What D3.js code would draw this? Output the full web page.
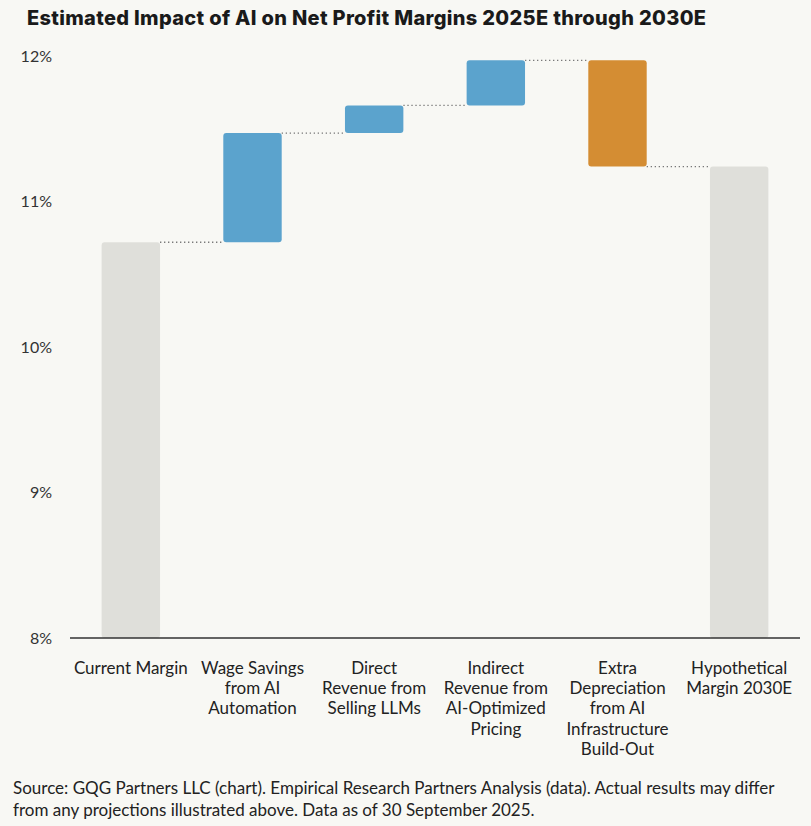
<!DOCTYPE html>
<html>
<head>
<meta charset="utf-8">
<script src="https://cdn.jsdelivr.net/npm/d3@7"></script>
<style>
  body { margin: 0; background: #f8f8f4; }
  text { font-family: Lato, "Noto Sans", sans-serif; }
</style>
</head>
<body>
<svg id="chart"></svg>
<script>
// data
const categories = ['Current Margin', 'Wage Savings', 'Direct Revenue', 'Indirect Revenue', 'Extra Depreciation', 'Hypothetical Margin'];
const labelLines = [
  ['Current Margin'],
  ['Wage Savings', 'from AI', 'Automation'],
  ['Direct', 'Revenue from', 'Selling LLMs'],
  ['Indirect', 'Revenue from', 'AI-Optimized', 'Pricing'],
  ['Extra', 'Depreciation', 'from AI', 'Infrastructure', 'Build-Out'],
  ['Hypothetical', 'Margin 2030E']
];
const startValue = 10.72;
const changes = [0.75, 0.19, 0.31, -0.73];
const endValue = 11.24;
const yTicks = [8, 9, 10, 11, 12];
const titleText = 'Estimated Impact of AI on Net Profit Margins 2025E through 2030E';
const sourceLines = [
  'Source: GQG Partners LLC (chart). Empirical Research Partners Analysis (data). Actual results may differ',
  'from any projections illustrated above. Data as of 30 September 2025.'
];

const width = 811, height = 826;
const colors = {total: '#dfdfda', up: '#5ba3cd', down: '#d48d33'};

// 1. build waterfall steps
let steps = [];
steps.push({cat: categories[0], lo: 8, hi: startValue, kind: 'total', level: startValue});
let level = startValue;
changes.forEach((c, i) => {
  let next = level + c;
  steps.push({cat: categories[i + 1], lo: Math.min(level, next), hi: Math.max(level, next), kind: c >= 0 ? 'up' : 'down', level: next});
  level = next;
});
steps.push({cat: categories[5], lo: 8, hi: endValue, kind: 'total', level: endValue});

const svg = d3.select('#chart').attr('width', width).attr('height', height);

// 2. scales
let x = d3.scaleBand().domain(categories).range([70, 800]).paddingInner(0.52).paddingOuter(0.26);
let y = d3.scaleLinear().domain([8, 12]).range([638, 56]);

// title
svg.append('text')
  .attr('x', 27).attr('y', 25)
  .attr('font-size', 20).attr('font-weight', 800)
  .attr('fill', '#1a1a1a')
  .style('font-family', 'Inter, sans-serif')
  .attr('textLength', 679)
  .attr('lengthAdjust', 'spacing')
  .text(titleText);

// 3. y axis labels
let yAxis = svg.append('g')
  .attr('transform', 'translate(70,0)')
  .call(d3.axisLeft(y).tickValues(yTicks).tickSize(0).tickPadding(18).tickFormat(d => d + '%'));
yAxis.select('.domain').remove();
yAxis.selectAll('text')
  .attr('font-size', 16).attr('fill', '#333')
  .style('font-family', 'Lato, sans-serif');

// 4. bars
svg.selectAll('rect.bar')
  .data(steps)
  .enter()
  .append('rect')
  .attr('class', 'bar')
  .attr('x', d => x(d.cat))
  .attr('y', d => y(d.hi))
  .attr('width', x.bandwidth())
  .attr('height', d => y(d.lo) - y(d.hi))
  .attr('rx', 3)
  .attr('fill', d => colors[d.kind]);

// connectors
svg.selectAll('line.conn')
  .data(steps.slice(0, -1))
  .enter()
  .append('line')
  .attr('class', 'conn')
  .attr('x1', d => x(d.cat) + x.bandwidth())
  .attr('x2', (d, i) => x(steps[i + 1].cat))
  .attr('y1', d => y(d.level))
  .attr('y2', d => y(d.level))
  .attr('stroke', '#777')
  .attr('stroke-width', 1.3)
  .attr('stroke-dasharray', '1.3,2.7');

// baseline
svg.append('line')
  .attr('x1', 70).attr('x2', 800)
  .attr('y1', y(8)).attr('y2', y(8))
  .attr('stroke', '#333').attr('stroke-width', 1.5);

// 5. category labels
let labels = svg.selectAll('text.cat')
  .data(categories)
  .enter()
  .append('text')
  .attr('class', 'cat')
  .attr('text-anchor', 'middle')
  .attr('font-size', 17)
  .attr('fill', '#222')
  .attr('transform', d => `translate(${x(d) + x.bandwidth() / 2},674)`);
labels.each(function(d, i) {
  d3.select(this).selectAll('tspan')
    .data(labelLines[i])
    .enter()
    .append('tspan')
    .attr('x', 0)
    .attr('y', (t, j) => j * 20.2)
    .text(t => t);
});

// source note
svg.selectAll('text.src')
  .data(sourceLines)
  .enter()
  .append('text')
  .attr('class', 'src')
  .attr('x', 13)
  .attr('y', (d, i) => 794 + i * 22)
  .attr('font-size', 17)
  .attr('fill', '#222')
  .text(d => d);
</script>
</body>
</html>
